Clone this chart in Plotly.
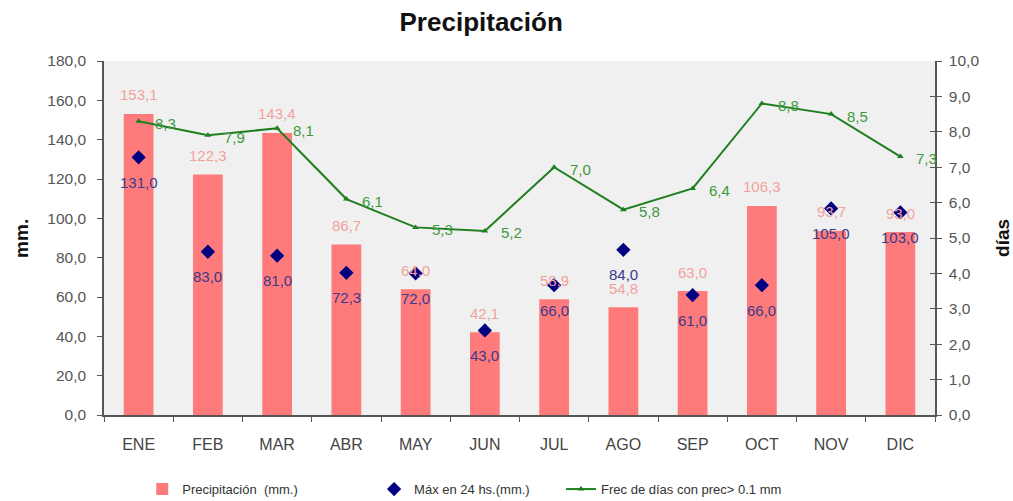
import plotly.graph_objects as go

# Monthly climate series
meses = ["ENE", "FEB", "MAR", "ABR", "MAY", "JUN", "JUL", "AGO", "SEP", "OCT", "NOV", "DIC"]
precipitacion = [153.1, 122.3, 143.4, 86.7, 64.0, 42.1, 58.9, 54.8, 63.0, 106.3, 93.7, 93.0]
max_24hs = [131.0, 83.0, 81.0, 72.3, 72.0, 43.0, 66.0, 84.0, 61.0, 66.0, 105.0, 103.0]
frec_dias = [8.3, 7.9, 8.1, 6.1, 5.3, 5.2, 7.0, 5.8, 6.4, 8.8, 8.5, 7.3]

FONT = "Liberation Sans, Arial, sans-serif"
C_BAR = "#ff7b7b"
C_BAR_TXT = "#f2a29c"
C_MAX = "#000080"
C_MAX_TXT = "#3a3a8c"
C_LINE = "#1f7f1f"
C_LINE_TXT = "#3d9a3d"
C_AXIS = "#555555"
C_TICK = "#555555"


def fmt(v):
    return f"{v:.1f}".replace(".", ",")


fig = go.Figure()

fig.add_trace(go.Bar(
    x=meses, y=precipitacion, name="Precipitación  (mm.)",
    marker=dict(color=C_BAR, line=dict(width=0)), width=0.43,
    yaxis="y", legend="legend",
))

fig.add_trace(go.Scatter(
    x=meses, y=max_24hs, name="Máx en 24 hs.(mm.)", mode="markers",
    marker=dict(symbol="diamond", size=11, color=C_MAX),
    yaxis="y", legend="legend2",
))

fig.add_trace(go.Scatter(
    x=meses, y=frec_dias, name="Frec de días con prec> 0.1 mm", mode="lines+markers",
    line=dict(color=C_LINE, width=2),
    marker=dict(symbol="triangle-up", size=6, color=C_LINE),
    yaxis="y2", legend="legend3",
))

# transparent trace that carries the inner tick marks of the right axis
fig.add_trace(go.Scatter(
    x=meses, y=frec_dias, mode="markers", marker=dict(opacity=0),
    showlegend=False, hoverinfo="skip", yaxis="y3",
))

annotations = []
for m, v in zip(meses, precipitacion):
    annotations.append(dict(
        x=m, y=v, xref="x", yref="y", text=fmt(v), showarrow=False,
        yshift=19, font=dict(family=FONT, size=15, color=C_BAR_TXT),
    ))
for m, v in zip(meses, max_24hs):
    annotations.append(dict(
        x=m, y=v, xref="x", yref="y", text=fmt(v), showarrow=False,
        yshift=-25, font=dict(family=FONT, size=15, color=C_MAX_TXT),
    ))
for m, v in zip(meses, frec_dias):
    annotations.append(dict(
        x=m, y=v, xref="x", yref="y2", text=fmt(v), showarrow=False,
        xanchor="left", xshift=14, yshift=-2,
        font=dict(family=FONT, size=15, color=C_LINE_TXT),
    ))

# axis titles
annotations.append(dict(
    x=-0.1, y=0.5, xref="paper", yref="paper", text="<b>mm.</b>",
    showarrow=False, textangle=-90, xanchor="center", yanchor="middle",
    font=dict(family=FONT, size=19, color="#111111"),
))
annotations.append(dict(
    x=1.0806, y=0.5, xref="paper", yref="paper", text="<b>días</b>",
    showarrow=False, textangle=-90, xanchor="center", yanchor="middle",
    font=dict(family=FONT, size=19, color="#111111"),
))

legend_common = dict(
    orientation="h", xanchor="left", y=-0.167, yanchor="top",
    font=dict(family=FONT, size=13, color="#333333"),
    bgcolor="rgba(0,0,0,0)", itemwidth=30,
)

fig.update_layout(
    width=1013, height=501,
    margin=dict(l=104, r=78, t=61, b=86, autoexpand=False),
    paper_bgcolor="white",
    plot_bgcolor="#f0f0f0",
    separators=",.",
    font=dict(family=FONT, color="#333333"),
    title=dict(
        text="<b>Precipitación</b>", x=0.475, xref="container", xanchor="center",
        y=0.956, yref="container", yanchor="middle",
        font=dict(family=FONT, size=26, color="#111111"),
    ),
    showlegend=True,
    legend=dict(legend_common, x=0.046),
    legend2=dict(legend_common, x=0.325),
    legend3=dict(legend_common, x=0.55),
    xaxis=dict(
        type="category", range=[-0.5, 11.5],
        showline=True, linecolor=C_AXIS, linewidth=1.5,
        ticks="outside", tickson="boundaries", ticklen=5, tickcolor=C_AXIS,
        tickfont=dict(family=FONT, size=16, color="#444444"),
        ticklabelstandoff=14,
        showgrid=False, zeroline=False,
    ),
    yaxis=dict(
        range=[0, 180], dtick=20, tickformat=".1f",
        showline=True, linecolor=C_AXIS, linewidth=1.5,
        ticks="outside", ticklen=5, tickcolor=C_AXIS,
        tickfont=dict(family=FONT, size=15.5, color=C_TICK),
        ticklabelstandoff=8,
        showgrid=False, zeroline=False,
    ),
    yaxis2=dict(
        range=[0, 10], dtick=1, tickformat=".1f",
        overlaying="y", side="right", anchor="x",
        showline=True, linecolor=C_AXIS, linewidth=1.5,
        ticks="outside", ticklen=5, tickcolor=C_AXIS,
        tickfont=dict(family=FONT, size=15.5, color=C_TICK),
        ticklabelstandoff=4,
        showgrid=False, zeroline=False,
    ),
    yaxis3=dict(
        range=[0, 10], dtick=1,
        overlaying="y", side="right", anchor="x",
        showline=False, ticks="inside", ticklen=5, tickcolor=C_AXIS,
        showticklabels=False, showgrid=False, zeroline=False,
    ),
    annotations=annotations,
)

fig.write_html("out.html")
